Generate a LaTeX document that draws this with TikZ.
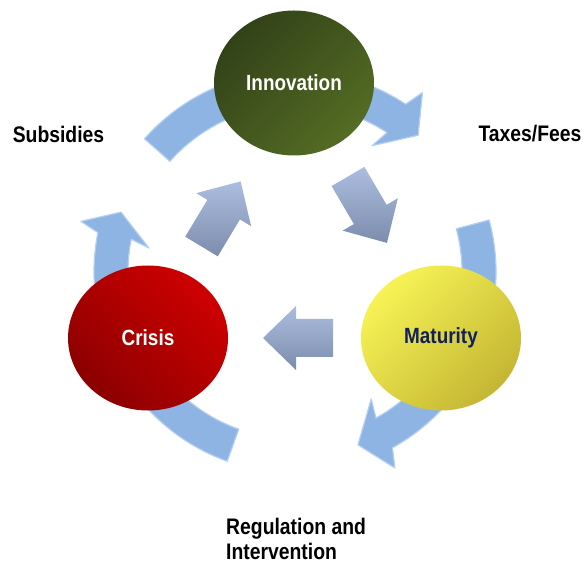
\documentclass[tikz,border=0pt]{standalone}
\usepackage{fontspec}
\newfontfamily\narrowsans{Liberation Sans}[FakeStretch=0.86]
\usetikzlibrary{calc,shapes.geometric}

\definecolor{innodark}{RGB}{50,66,24}
\definecolor{innolight}{RGB}{84,108,36}
\definecolor{matlight}{RGB}{247,243,85}
\definecolor{matdark}{RGB}{196,182,52}
\definecolor{crislight}{RGB}{206,0,0}
\definecolor{crisdark}{RGB}{140,0,0}
\definecolor{loopblue}{RGB}{141,180,226}
\definecolor{loopedge}{RGB}{180,208,244}
\definecolor{flattop}{RGB}{172,190,224}
\definecolor{flatbot}{RGB}{124,140,172}
\definecolor{navy}{RGB}{16,32,96}

\tikzset{
  phase/.style={ellipse, minimum width=160pt, minimum height=145pt, inner sep=0pt,
    font=\narrowsans\bfseries\fontsize{22}{24}\selectfont},
  loop/.style={fill=loopblue, draw=loopedge, line width=1.2pt, line join=round},
  flatarrow/.style={top color=flattop, bottom color=flatbot},
  tag/.style={font=\narrowsans\bfseries\fontsize{22.5}{24.5}\selectfont, align=left, inner sep=0pt},
}

% curved arrow round the centre: tail angle, barb angle, tip angle
\newcommand{\looparrow}[3]{%
  \draw[loop] (#1:201) arc[start angle=#1, end angle=#2, radius=201]
    -- (#2-2:220) -- (#3:184) -- (#2+2:148) -- (#2:167)
    arc[start angle=#2, end angle=#1, radius=167] -- cycle;}

% straight block arrow: base point, heading, length
\newcommand{\blockarrow}[3]{%
  \shade[flatarrow] ($(#1)+(#2+90:19)$) -- ($(#1)+(#2:#3-33)+(#2+90:19)$)
    -- ($(#1)+(#2:#3-33)+(#2+90:32)$) -- ($(#1)+(#2:#3)$)
    -- ($(#1)+(#2:#3-33)+(#2-90:32)$) -- ($(#1)+(#2:#3-33)+(#2-90:19)$)
    -- ($(#1)+(#2-90:19)$) -- cycle;}

\begin{document}
\begin{tikzpicture}[x=1pt, y=1pt]
\useasboundingbox (0,0) rectangle (583,565);

% loop arrows behind the phases
\coordinate (O) at (295,293);
\begin{scope}[shift={(O)}]
\looparrow{138.5}{56.6}{48}
\looparrow{15}{-61}{-70}
\looparrow{250.3}{168.7}{161}
\end{scope}

% the three phases
\node[phase, top color=innodark, bottom color=innolight, shading angle=45, text=white]
  (innovation) at (294,482) {Innovation};
\node[phase, top color=matlight, bottom color=matdark, shading angle=45, text=navy]
  (maturity) at (441,227) {Maturity};
\node[phase, top color=crislight, bottom color=crisdark, shading angle=-45, text=white]
  (crisis) at (148,227) {Crisis};

% inner arrows
\coordinate (fallbase) at (348,388.5);
\coordinate (risebase) at (201.5,318.5);
\coordinate (backbase) at (333,227);
\blockarrow{fallbase}{-59.6}{77}
\blockarrow{risebase}{59}{76}
\blockarrow{backbase}{180}{70}

% instruments
\node[tag] (subsidies) at (58.5,431) {Subsidies};
\node[tag] (taxes) at (530,431) {Taxes/Fees};
\node[tag, anchor=west] (regulation) at (226,26) {Regulation and\\Intervention};
\end{tikzpicture}
\end{document}
